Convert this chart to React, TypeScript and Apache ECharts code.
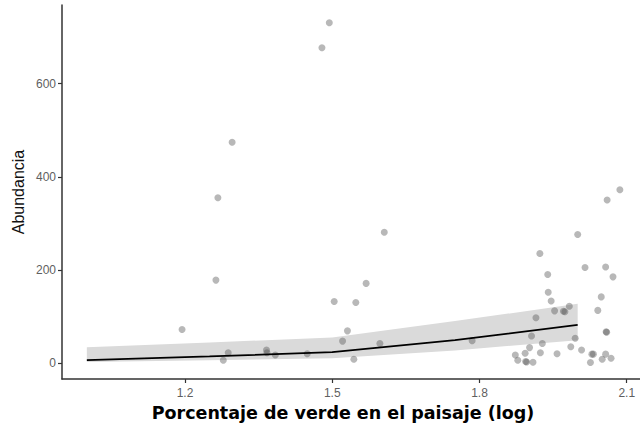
import React, { useEffect, useRef } from "react";
import * as echarts from "echarts";

// Observed sites: log-scaled green cover vs. abundance
const greenLog = [
  1.494, 1.479, 1.296, 1.267, 1.606, 1.263, 1.569, 1.194, 1.288, 1.278,
  1.366, 1.367, 1.384, 1.449, 1.504, 1.548, 1.531, 1.521, 1.544, 1.597,
  1.785, 1.923, 1.939, 1.940, 1.946, 1.953, 1.915, 1.906, 1.902, 1.928,
  1.924, 1.873, 1.893, 1.878, 1.894, 1.896, 1.909, 1.958, 2.086, 2.060,
  2.000, 2.015, 2.057, 2.072, 2.048, 2.041, 1.971, 1.974, 1.983, 1.995,
  1.986, 2.008, 2.029, 2.032, 2.026, 2.050, 2.057, 2.068, 2.058, 2.059,
];
const abundance = [
  731, 677, 474, 355, 281, 178, 171, 72, 22, 6,
  28, 22, 17, 20, 132, 130, 69, 47, 8, 42,
  48, 235, 190, 152, 133, 112, 97, 58, 33, 42,
  22, 17, 21, 6, 3, 2, 1.5, 20, 372, 350,
  276, 205, 206, 185, 142, 113, 111, 110, 122, 53,
  35, 28, 19, 19, 1, 8, 19, 10, 67, 66,
];

// Fitted trend with its confidence band
const fitX = [1.0, 1.25, 1.5, 1.75, 2.0];
const fitY = [6, 14, 23.5, 49, 82];
const bandLower = [2, 6, 10, 27, 49];
const bandUpper = [34, 44, 55, 90, 127];

// Axis ticks
const xTicks = [1.2, 1.5, 1.8, 2.1];
const yTicks = [0, 200, 400, 600];

const X_MIN = 0.9494;
const X_MAX = 2.127;
const Y_MIN = -34.4;
const Y_MAX = 769;

const axisColor = "#333333";
const labelStyle = {
  color: "#5f5f5f",
  fontSize: 12,
  fontFamily: "Liberation Sans, Arial, sans-serif",
};

export default function App() {
  const ref = useRef<HTMLDivElement>(null);

  useEffect(() => {
    if (!ref.current) return;
    const chart = echarts.init(ref.current, null, { renderer: "svg" });

    chart.setOption({
      animation: false,
      backgroundColor: "#ffffff",
      grid: { left: 62, right: 0, top: 5, bottom: 48, containLabel: false },
      xAxis: {
        type: "value",
        min: X_MIN,
        max: X_MAX,
        splitLine: { show: false },
        axisLine: { show: true, onZero: false, lineStyle: { color: axisColor, width: 1.5 } },
        axisTick: {
          show: true,
          length: 4,
          customValues: xTicks,
          lineStyle: { color: axisColor, width: 1.2 },
        },
        axisLabel: {
          ...labelStyle,
          margin: 8,
          customValues: xTicks,
          formatter: (v: number) => v.toFixed(1),
        },
      },
      yAxis: {
        type: "value",
        min: Y_MIN,
        max: Y_MAX,
        splitLine: { show: false },
        axisLine: { show: true, onZero: false, lineStyle: { color: axisColor, width: 1.5 } },
        axisTick: {
          show: true,
          length: 4,
          customValues: yTicks,
          lineStyle: { color: axisColor, width: 1.2 },
        },
        axisLabel: {
          ...labelStyle,
          margin: 6,
          customValues: yTicks,
          formatter: (v: number) => String(Math.round(v)),
        },
      },
      series: [
        {
          type: "custom",
          name: "band",
          z: 1,
          silent: true,
          data: [[fitX[0], bandLower[0]]],
          renderItem: (_params: any, api: any) => {
            const upper = fitX.map((x, i) => api.coord([x, bandUpper[i]]));
            const lower = fitX.map((x, i) => api.coord([x, bandLower[i]])).reverse();
            return {
              type: "polygon",
              shape: { points: [...upper, ...lower] },
              style: { fill: "#dadada" },
            };
          },
        },
        {
          type: "scatter",
          name: "sites",
          z: 2,
          symbolSize: 7,
          data: greenLog.map((x, i) => [x, abundance[i]]),
          itemStyle: { color: "rgba(77,77,77,0.5)" },
        },
        {
          type: "line",
          name: "fit",
          z: 3,
          showSymbol: false,
          data: fitX.map((x, i) => [x, fitY[i]]),
          lineStyle: { color: "#000000", width: 1.7 },
        },
      ],
      graphic: [
        {
          type: "text",
          x: 18,
          y: 192,
          rotation: Math.PI / 2,
          style: {
            text: "Abundancia",
            fill: "#111111",
            fontSize: 16,
            fontFamily: "Liberation Sans, Arial, sans-serif",
            align: "center",
            verticalAlign: "middle",
          },
        },
        {
          type: "text",
          x: 343,
          y: 413,
          style: {
            text: "Porcentaje de verde en el paisaje (log)",
            fill: "#000000",
            fontSize: 17.5,
            fontWeight: "bold",
            fontFamily: "DejaVu Sans, Verdana, sans-serif",
            align: "center",
            verticalAlign: "middle",
          },
        },
      ],
    });

    return () => chart.dispose();
  }, []);

  return (
    <div
      ref={ref}
      style={{ position: "fixed", left: 0, top: 0, width: 640, height: 427 }}
    />
  );
}
